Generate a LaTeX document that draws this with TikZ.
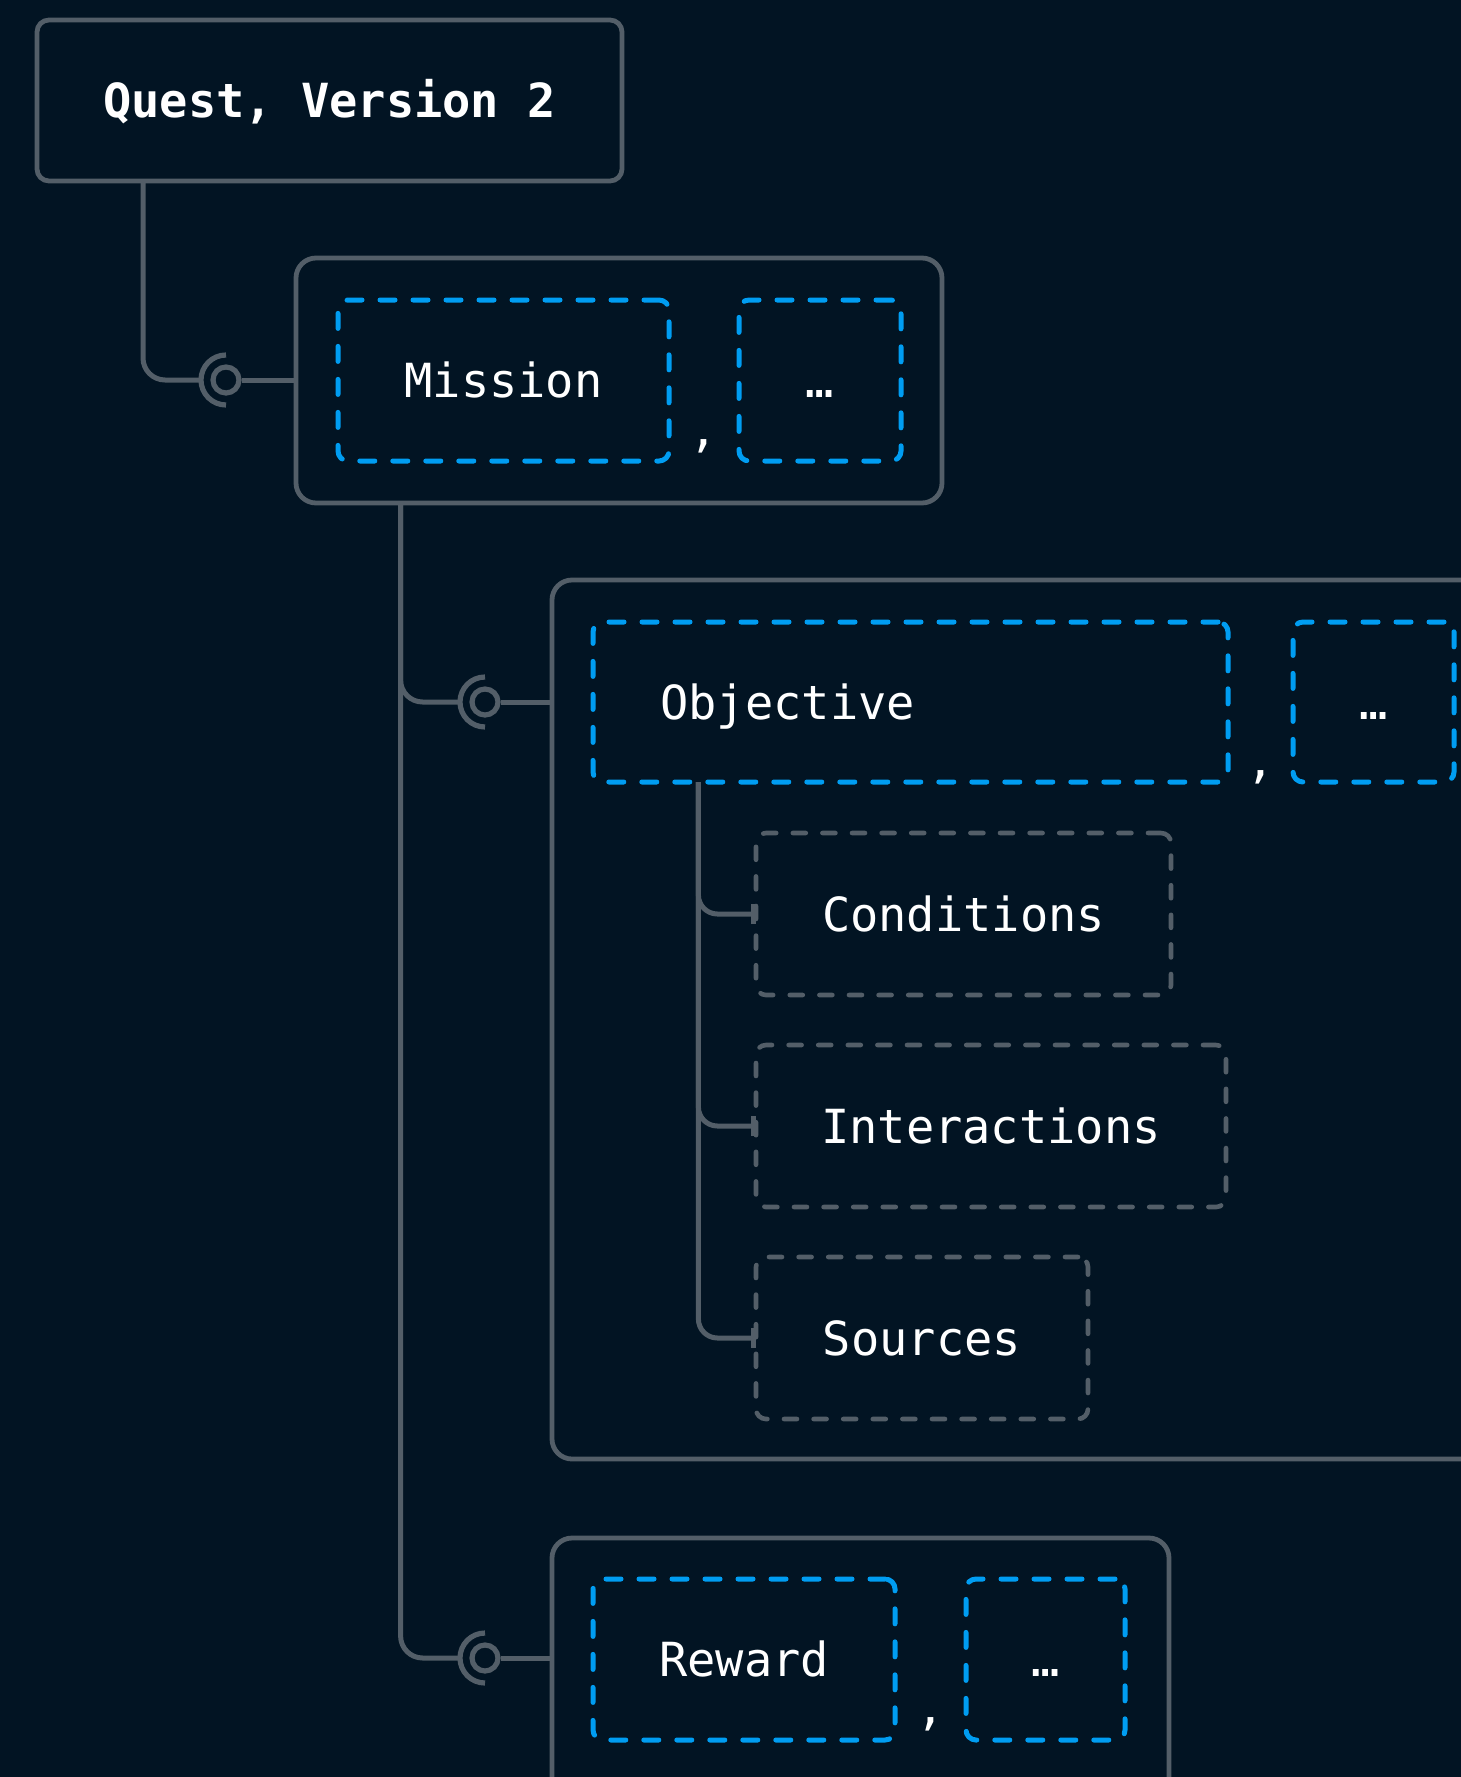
\documentclass[tikz,border=0pt]{standalone}
\usepackage{fontspec}
\newfontfamily\codefont{DejaVu Sans Mono}
\usetikzlibrary{fit,arrows.meta,calc}
\definecolor{bgnavy}{HTML}{021423}
\definecolor{edgegray}{HTML}{535E68}
\definecolor{slotblue}{HTML}{009DF2}
\tikzset{
  panel/.style={draw=edgegray, line width=2.4pt, rounded corners=10pt, inner sep=0pt, outer sep=0pt},
  slot/.style={draw=slotblue, line width=2.5pt, rounded corners=5pt, dash pattern=on 7.5pt off 9pt, line cap=round, inner sep=0pt, outer sep=0pt},
  field/.style={draw=edgegray, line width=2.3pt, rounded corners=5pt, dash pattern=on 6.5pt off 8.3pt, line cap=round, inner sep=0pt, outer sep=0pt},
  lbl/.style={text=white, font=\codefont\fontsize{23.5pt}{28pt}\selectfont, inner sep=0pt, anchor=base},
  conn/.style={draw=edgegray, line width=2.5pt, rounded corners=11pt},
  subconn/.style={draw=edgegray, line width=2.5pt, rounded corners=9.5pt, -{Bar[width=10pt,line width=2.5pt]}},
  ring/.style={circle, draw=edgegray, line width=2.6pt, minimum size=13pt, inner sep=0pt},
  socket/.style={circle, minimum size=25pt, inner sep=0pt, outer sep=0pt},
  cup/.style={draw=edgegray, line width=2.6pt},
}
\begin{document}
\begin{tikzpicture}[x=0.5pt, y=-0.5pt]
\fill[bgnavy] (0,0) rectangle (1461,1777);
\useasboundingbox (0,0) rectangle (1461,1777);
\begin{scope}
\clip (0,0) rectangle (1461,1777);

% top-level record
\node[panel, rounded corners=6pt, fit={(37,20) (622,181)}] (quest) {};
\node[lbl, font=\codefont\bfseries\fontsize{23.5pt}{28pt}\selectfont] (questtxt) at ([yshift=-8.5pt]quest.center) {Quest, Version 2};

% mission list
\node[panel, fit={(296,258) (942,503)}] (mission) {};
\node[slot, fit={(338,300) (669,461)}] (mslot) {};
\node[slot, fit={(739,300) (901,461)}] (mdots) {};
\node[lbl] (mtxt) at ([yshift=-8.5pt]mslot.center) {Mission};
\node[lbl] (mdotstxt) at ([yshift=-8.5pt]mdots.center) {…};
\node[lbl] (mcomma) at ($(mslot.south east)!0.5!(mdots.south west)+(0,-15)$) {,};

% objective list
\node[panel, fit={(552,580) (1520,1459)}] (objective) {};
\node[slot, fit={(593,622) (1228,782)}] (oslot) {};
\node[slot, fit={(1293,622) (1454,782)}] (odots) {};
\node[lbl, anchor=base west] (otxt) at ([xshift=33.5pt,yshift=-8.5pt]oslot.west) {Objective};
\node[lbl] (odotstxt) at ([yshift=-8.5pt]odots.center) {…};
\node[lbl] (ocomma) at ($(oslot.south east)!0.5!(odots.south west)+(0,-5)$) {,};

% objective fields
\node[field, fit={(756,833) (1171,995)}] (cond) {};
\node[field, fit={(756,1045) (1226,1207)}] (inter) {};
\node[field, fit={(756,1257) (1088,1419)}] (src) {};
\node[lbl] (condtxt) at ([yshift=-8.5pt]cond.center) {Conditions};
\node[lbl] (intertxt) at ([yshift=-8.5pt]inter.center) {Interactions};
\node[lbl] (srctxt) at ([yshift=-8.5pt]src.center) {Sources};

% reward list
\node[panel, fit={(552,1538) (1169,1840)}] (reward) {};
\node[slot, fit={(593,1579) (895,1740)}] (rslot) {};
\node[slot, fit={(966,1579) (1125,1740)}] (rdots) {};
\node[lbl] (rtxt) at ([yshift=-8.5pt]rslot.center) {Reward};
\node[lbl] (rdotstxt) at ([yshift=-8.5pt]rdots.center) {…};
\node[lbl] (rcomma) at ($(rslot.south east)!0.5!(rdots.south west)+(0,-16)$) {,};

% sockets: ring with a half cup on the incoming side
\node[socket] (s1) at (226,380) {};
\node[socket] (s2) at (485,702) {};
\node[socket] (s3) at (485,1658) {};
\foreach \s in {s1,s2,s3}{
  \node[ring] (\s r) at (\s.center) {};
  \draw[cup] (\s.north) arc[start angle=90, end angle=270, radius=12.5pt];
}

% connectors
\draw[conn] ([xshift=53pt]quest.south west) |- (s1.west);
\draw[conn] (s1r.east) -- (s1r.east -| mission.west);
\draw[conn] ([xshift=52.3pt]mission.south west) |- (s2.west);
\draw[conn] ([xshift=52.3pt]mission.south west) |- (s3.west);
\draw[conn] (s2r.east) -- (s2r.east -| objective.west);
\draw[conn] (s3r.east) -- (s3r.east -| reward.west);

\draw[subconn] ([xshift=52.7pt]oslot.south west) |- (cond.west);
\draw[subconn] ([xshift=52.7pt]oslot.south west) |- (inter.west);
\draw[subconn] ([xshift=52.7pt]oslot.south west) |- (src.west);
\end{scope}
\end{tikzpicture}
\end{document}
